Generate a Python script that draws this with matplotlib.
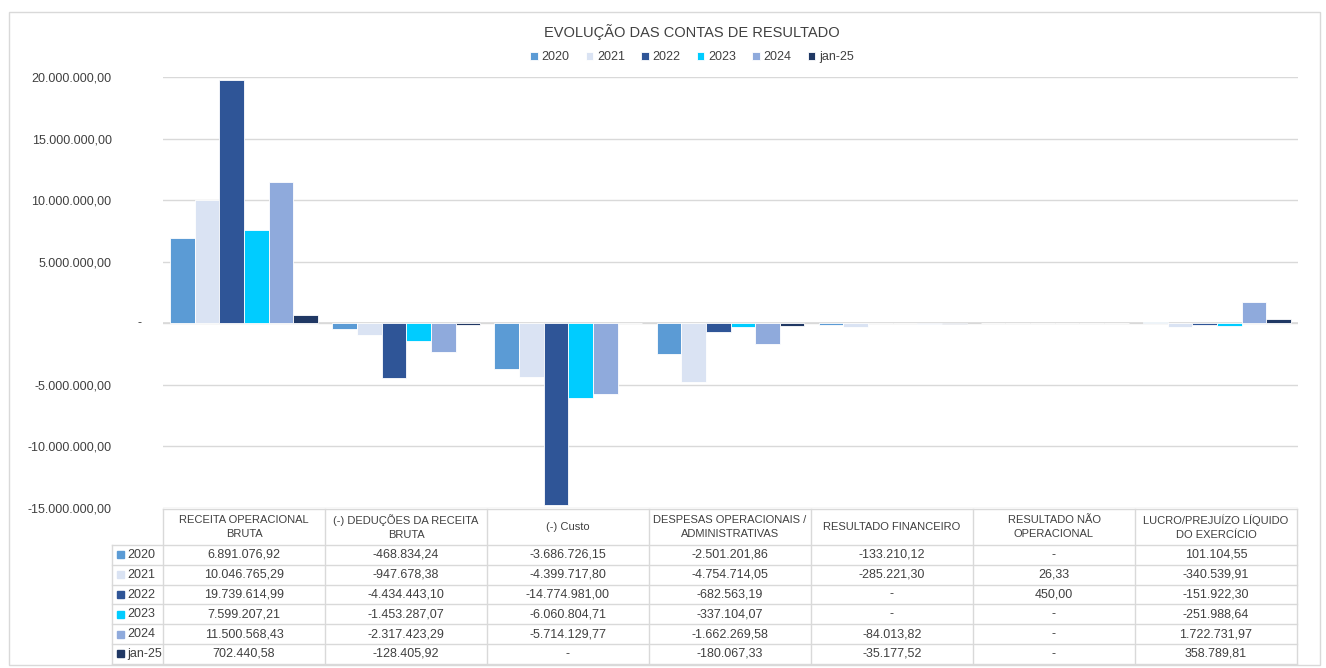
import numpy as np
import matplotlib
matplotlib.use("Agg")
import matplotlib.pyplot as plt
from matplotlib.patches import Rectangle
from matplotlib.ticker import FuncFormatter
from matplotlib.transforms import blended_transform_factory

plt.rcParams['font.family'] = ['Liberation Sans', 'DejaVu Sans']

categorias = ["RECEITA OPERACIONAL\nBRUTA", "(-) DEDUÇÕES DA RECEITA\nBRUTA", "(-) Custo",
              "DESPESAS OPERACIONAIS /\nADMINISTRATIVAS", "RESULTADO FINANCEIRO",
              "RESULTADO NÃO\nOPERACIONAL", "LUCRO/PREJUÍZO LÍQUIDO\nDO EXERCÍCIO"]
series = ["2020", "2021", "2022", "2023", "2024", "jan-25"]
cores = ["#5B9BD5", "#DAE3F3", "#2F5597", "#00CCFF", "#8FAADC", "#203864"]

v2020 = [6891076.92, -468834.24, -3686726.15, -2501201.86, -133210.12, np.nan, 101104.55]
v2021 = [10046765.29, -947678.38, -4399717.80, -4754714.05, -285221.30, 26.33, -340539.91]
v2022 = [19739614.99, -4434443.10, -14774981.00, -682563.19, np.nan, 450.00, -151922.30]
v2023 = [7599207.21, -1453287.07, -6060804.71, -337104.07, np.nan, np.nan, -251988.64]
v2024 = [11500568.43, -2317423.29, -5714129.77, -1662269.58, -84013.82, np.nan, 1722731.97]
vjan25 = [702440.58, -128405.92, np.nan, -180067.33, -35177.52, np.nan, 358789.81]
valores = [v2020, v2021, v2022, v2023, v2024, vjan25]

txt = "#404040"


def fmt_br(v):
    if np.isnan(v) or v == 0:
        return "-"
    s = f"{v:,.2f}"
    return s.replace(",", "X").replace(".", ",").replace("X", ".")


W, H = 1326, 668
fig = plt.figure(figsize=(W / 100, H / 100), dpi=100)

# moldura do grafico
fig.patches.append(Rectangle((9 / W, 3 / H), 1311 / W, 653 / H, transform=fig.transFigure,
                             fill=False, edgecolor="#D9D9D9", lw=1))

x0, x1 = 163, 1298
ytop, ybot = 77, 508
ax = fig.add_axes([x0 / W, 1 - ybot / H, (x1 - x0) / W, (ybot - ytop) / H])

n = len(categorias)
x = np.arange(n)
bw = 0.152
for i, (s, vals) in enumerate(zip(series, valores)):
    ax.bar(x + (i - 2.5) * bw, np.nan_to_num(vals), width=bw, color=cores[i],
           edgecolor="white", linewidth=0.6, label=s, zorder=3)

ax.set_xlim(-0.5, n - 0.5)
ax.set_ylim(-15000000, 20000000)
ax.set_yticks(np.arange(-15000000, 20000001, 5000000))
ax.yaxis.set_major_formatter(FuncFormatter(lambda v, p: "" if v == 0 else fmt_br(v)))
ax.tick_params(axis='y', length=0, pad=37, labelsize=9, labelcolor=txt)
ax.set_xticks([])
ax.grid(axis='y', color="#D9D9D9", lw=1, zorder=0)
for sp in ax.spines.values():
    sp.set_visible(False)
ax.axhline(0, color="#D9D9D9", lw=1.2, zorder=2)
# rotulo do zero como no excel
ax.text(140 / W, 0, "-", transform=blended_transform_factory(fig.transFigure, ax.transData),
        ha="center", va="center", fontsize=9, color=txt)

fig.text(692 / W, 1 - 32 / H, "EVOLUÇÃO DAS CONTAS DE RESULTADO", ha="center", va="center",
         fontsize=10.5, color=txt)
fig.legend(loc="center", bbox_to_anchor=(692 / W, 1 - 57 / H), ncol=6, frameon=False,
           handlelength=0.6, handleheight=0.6, handletextpad=0.3, columnspacing=1.3,
           fontsize=9, labelcolor=txt)

# tabela de dados
tab = fig.add_axes([0, 0, 1, 1])
tab.set_xlim(0, W)
tab.set_ylim(H, 0)
tab.axis("off")
lc = "#D9D9D9"
col_x = np.linspace(x0, 1297, n + 1)
lab_x = 112
y_head, y_row0, rh = 509, 545, 19.8
y_end = y_row0 + rh * len(series)
# linhas horizontais
tab.plot([x0, col_x[-1]], [y_head, y_head], color=lc, lw=1)
for r in range(len(series) + 1):
    yy = y_row0 + r * rh
    tab.plot([lab_x, col_x[-1]], [yy, yy], color=lc, lw=1)
# linhas verticais
for cx in col_x:
    tab.plot([cx, cx], [y_head, y_end], color=lc, lw=1)
tab.plot([lab_x, lab_x], [y_row0, y_end], color=lc, lw=1)

for j, c in enumerate(categorias):
    tab.text((col_x[j] + col_x[j + 1]) / 2, (y_head + y_row0) / 2, c, ha="center", va="center",
             fontsize=8, color=txt, linespacing=1.45)
for i, (s, vals) in enumerate(zip(series, valores)):
    yc = y_row0 + (i + 0.5) * rh
    tab.add_patch(Rectangle((lab_x + 5, yc - 3.5), 7, 7, color=cores[i]))
    tab.text(lab_x + 15, yc, s, ha="left", va="center", fontsize=9, color=txt)
    for j, v in enumerate(vals):
        tab.text((col_x[j] + col_x[j + 1]) / 2, yc, fmt_br(v), ha="center", va="center",
                 fontsize=9, color=txt)

fig.savefig("out.png", dpi=100)
